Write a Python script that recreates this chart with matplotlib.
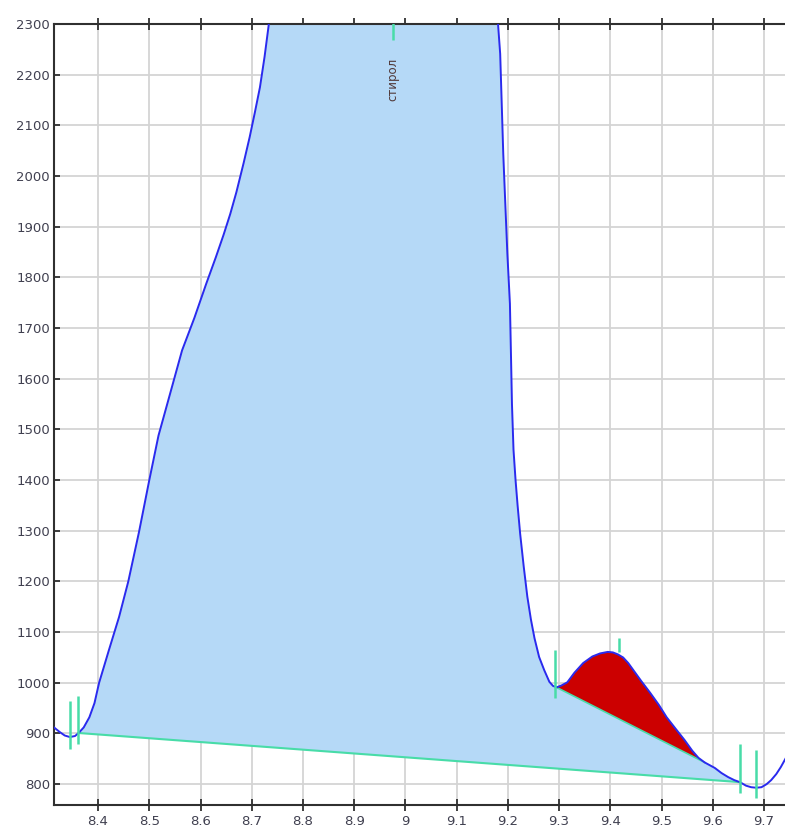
import matplotlib.pyplot as plt
import numpy as np

# chromatogram trace (time, signal)
curve_x = [8.314, 8.325, 8.335, 8.345, 8.355, 8.362, 8.372, 8.383, 8.393, 8.402,
           8.421, 8.441, 8.459, 8.480, 8.500, 8.518, 8.535, 8.564, 8.588, 8.611,
           8.630, 8.645, 8.658, 8.670, 8.684, 8.696, 8.706, 8.716, 8.725, 8.733,
           8.745, 8.97,
           9.175, 9.181, 9.185, 9.188, 9.191, 9.195, 9.199, 9.204, 9.206, 9.208,
           9.211, 9.215, 9.219, 9.224, 9.231, 9.238, 9.245, 9.252, 9.261, 9.271,
           9.281, 9.288,
           9.295, 9.305, 9.316, 9.33, 9.347, 9.365, 9.38, 9.395, 9.405, 9.415,
           9.425, 9.435, 9.445, 9.46, 9.478, 9.495, 9.51, 9.527, 9.545, 9.56,
           9.572, 9.584, 9.604, 9.617, 9.63, 9.642, 9.653, 9.665, 9.675, 9.685,
           9.695, 9.705, 9.714, 9.724, 9.733, 9.745]
curve_y = [912, 903, 896, 893, 895, 901, 912, 932, 960, 1000,
           1064, 1130, 1200, 1298, 1400, 1488, 1550, 1656, 1720, 1787,
           1840, 1884, 1925, 1968, 2025, 2077, 2125, 2175, 2235, 2297,
           2500, 9000,
           2500, 2297, 2241, 2143, 2044, 1945, 1847, 1748, 1650, 1550,
           1460, 1400, 1350, 1294, 1229, 1170, 1125, 1088, 1051, 1025,
           1002, 994,
           991, 995, 1001, 1020, 1039, 1052, 1058, 1061, 1060, 1056,
           1050, 1039, 1025, 1004, 980, 956, 932, 910, 887, 866,
           852, 843, 832, 822, 814, 808, 804, 797, 794, 793,
           794, 800, 808, 820, 834, 856]

# integration baselines (start, end)
main_base_x = [8.362, 9.653]
main_base_y = [901, 804]
small_base_x = [9.295, 9.584]
small_base_y = [991, 843]

# peak boundary marks
mark_x = [8.345, 8.36, 9.292, 9.417, 9.654, 9.684, 8.976]
mark_lo = [870, 879, 970, 1060, 782, 772, 2268]
mark_hi = [964, 974, 1064, 1088, 879, 867, 2310]

peak_name = "стирол"
peak_pos = (8.976, 2190)

xticks = [8.4, 8.5, 8.6, 8.7, 8.8, 8.9, 9.0, 9.1, 9.2, 9.3, 9.4, 9.5, 9.6, 9.7]
xlabels = ["8.4", "8.5", "8.6", "8.7", "8.8", "8.9", "9", "9.1", "9.2", "9.3", "9.4", "9.5", "9.6", "9.7"]
yticks = list(range(800, 2301, 100))

cx = np.array(curve_x)
cy = np.array(curve_y)

fig = plt.figure(figsize=(7.85, 8.32), dpi=100)
ax = fig.add_axes([0.0688, 0.0325, 0.9312, 0.9387])

# main peak area
sel = (cx >= main_base_x[0]) & (cx <= main_base_x[1])
px = np.concatenate([cx[sel], main_base_x[::-1]])
py = np.concatenate([cy[sel], main_base_y[::-1]])
ax.fill(px, py, color="#b5d9f7", lw=0, zorder=2)

# small peak area
sel = (cx >= small_base_x[0]) & (cx <= small_base_x[1])
px = np.concatenate([cx[sel], small_base_x[::-1]])
py = np.concatenate([cy[sel], small_base_y[::-1]])
ax.fill(px, py, color="#cc0000", lw=0, zorder=3)

ax.plot(main_base_x, main_base_y, color="#48dca8", lw=1.5, zorder=4)
ax.plot(small_base_x, small_base_y, color="#48dca8", lw=1.2, zorder=4)
ax.plot(cx, cy, color="#2a2aee", lw=1.4, zorder=5)
ax.vlines(mark_x, mark_lo, mark_hi, color="#48dca8", lw=1.8, zorder=6)

ax.text(peak_pos[0], peak_pos[1], peak_name, rotation=90, ha="center", va="center",
        fontsize=8.5, color="#503838", zorder=7)

ax.set_xlim(8.314, 9.741)
ax.set_ylim(759, 2300)
ax.set_xticks(xticks)
ax.set_xticklabels(xlabels)
ax.set_yticks(yticks)

ax.grid(True, color="#d4d4d4", lw=1.3, zorder=0)
ax.set_axisbelow(True)
for s in ["left", "bottom", "top"]:
    ax.spines[s].set_color("#303030")
    ax.spines[s].set_linewidth(1.5)
ax.spines["right"].set_visible(False)

ax.tick_params(axis="x", direction="inout", length=8, width=1.3, colors="#303030",
               labelcolor="#404050", labelsize=9.5, pad=3, top=True)
ax.tick_params(axis="y", direction="in", length=4, width=1.3, colors="#303030",
               labelcolor="#404050", labelsize=9.5, pad=3)

fig.savefig("out.png", dpi=100)
